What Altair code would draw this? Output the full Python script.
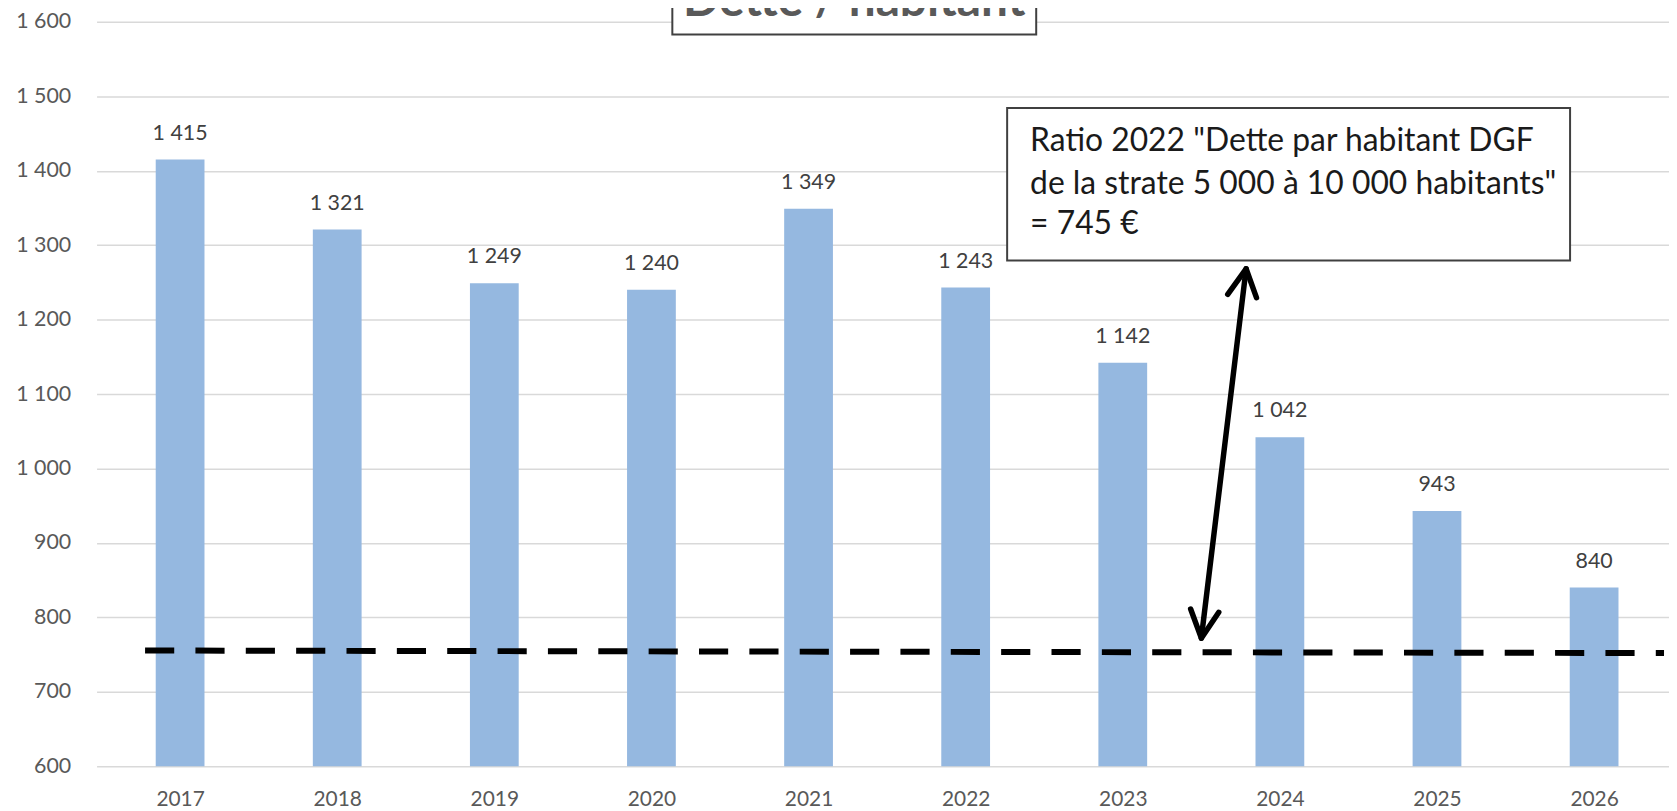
import altair as alt
import pandas as pd

# ---- data ----
years = [2017, 2018, 2019, 2020, 2021, 2022, 2023, 2024, 2025, 2026]
dette = [1415, 1321, 1249, 1240, 1349, 1243, 1142, 1042, 943, 840]
y_ticks = [600, 700, 800, 900, 1000, 1100, 1200, 1300, 1400, 1500, 1600]

# dashed reference line (drawn slightly sloped in the original)
ref_x = [2016.777, 2026.445]
ref_y = [755.5, 752.1]

# double arrow (bottom tip, top tip) and its two heads
arrow_x = [2023.50, 2023.785]
arrow_y = [772.1, 1268.3]
head_top_x = [2023.668, 2023.785, 2023.851]
head_top_y = [1233.9, 1268.3, 1229.5]
head_bot_x = [2023.432, 2023.50, 2023.611]
head_bot_y = [811.3, 772.1, 806.9]

# annotation box
box_x = [2022.264, 2025.847]
box_y = [1279.4, 1484.4]
note_lines = ['Ratio 2022 "Dette par habitant DGF',
              'de la strate 5 000 à 10 000 habitants"',
              '= 745 €']
note_x = [2022.41, 2022.41, 2022.41]
note_y = [1426.5, 1369.4, 1315.1]

# title (cut at the top in the original)
title_text = ["Dette / habitant"]
title_x = [2021.291]
title_y = [1608.4]
title_box_x = [2020.133, 2022.449]
title_box_y = [1583, 1720]

FONT = "Lato"

def fmt(v):
    return f"{v:,}".replace(",", " ")

bars_df = pd.DataFrame({"x": years, "y": dette, "label": [fmt(v) for v in dette]})
ref_df = pd.DataFrame({"x": [ref_x[0]], "x2": [ref_x[1]], "y": [ref_y[0]], "y2": [ref_y[1]]})
shaft_df = pd.DataFrame({"x": [arrow_x[0]], "x2": [arrow_x[1]], "y": [arrow_y[0]], "y2": [arrow_y[1]]})
heads_df = pd.DataFrame({
    "x": head_top_x + head_bot_x,
    "y": head_top_y + head_bot_y,
    "g": ["top"] * 3 + ["bot"] * 3,
    "i": [0, 1, 2, 0, 1, 2],
})
box_df = pd.DataFrame({"x": [box_x[0]], "x2": [box_x[1]], "y": [box_y[0]], "y2": [box_y[1]]})
note_df = pd.DataFrame({"x": note_x, "y": note_y, "t": note_lines})
tbox_df = pd.DataFrame({"x": [title_box_x[0]], "x2": [title_box_x[1]],
                        "y": [title_box_y[0]], "y2": [title_box_y[1]]})
title_df = pd.DataFrame({"x": title_x, "y": title_y, "t": title_text})

xscale = alt.Scale(domain=[2016.5, 2026.445], nice=False, zero=False)
yscale = alt.Scale(domain=[600, 1600], nice=False, zero=False)

x_axis = alt.Axis(values=years, format="d", grid=False, ticks=False, tickSize=0,
                  domain=False, labelFontSize=21, labelColor="#595959",
                  labelPadding=22, title=None, labelFont=FONT)
y_axis = alt.Axis(values=y_ticks, grid=True, gridColor="#D9D9D9", gridWidth=1.5,
                  ticks=False, tickSize=0, domain=False, labelFontSize=21.5,
                  labelColor="#595959", labelPadding=26, title=None, labelFont=FONT,
                  labelExpr="replace(format(datum.value, ','), ',', ' ')")

X = lambda: alt.X("x:Q", scale=xscale, axis=x_axis)
Y = lambda: alt.Y("y:Q", scale=yscale, axis=y_axis)

bars = alt.Chart(bars_df).mark_bar(size=49, color="#95B8E0").encode(
    x=X(), y=Y(), y2=alt.datum(600),
)
labels = alt.Chart(bars_df).mark_text(dy=-20, baseline="alphabetic", fontSize=21.5,
                                      color="#404040", font=FONT).encode(
    x=X(), y=Y(), text="label:N")

ref = alt.Chart(ref_df).mark_rule(strokeDash=[29.3, 21.3], strokeWidth=6, color="black").encode(
    x=X(), x2="x2:Q", y=Y(), y2="y2:Q")

shaft = alt.Chart(shaft_df).mark_rule(strokeWidth=5.5, color="black", strokeCap="round").encode(
    x=X(), x2="x2:Q", y=Y(), y2="y2:Q")
heads = alt.Chart(heads_df).mark_line(strokeWidth=5.5, color="black", strokeCap="round",
                                      strokeJoin="round").encode(
    x=X(), y=Y(), detail="g:N", order="i:Q")

box = alt.Chart(box_df).mark_rect(fill="white", stroke="#404040", strokeWidth=2).encode(
    x=X(), x2="x2:Q", y=Y(), y2="y2:Q")
note = alt.Chart(note_df).mark_text(align="left", baseline="alphabetic", fontSize=32,
                                    color="#1a1a1a", font=FONT).encode(
    x=X(), y=Y(), text="t:N")

tbox = alt.Chart(tbox_df).mark_rect(fill="white", stroke="#404040", strokeWidth=2).encode(
    x=X(), x2="x2:Q", y=Y(), y2="y2:Q")
title = alt.Chart(title_df).mark_text(align="center", baseline="alphabetic", fontSize=48,
                                      fontWeight="bold", color="#595959", font=FONT).encode(
    x=X(), y=Y(), text="t:N")

chart = alt.layer(bars, labels, ref, shaft, heads, box, note, tbox, title).properties(
    width=1580, height=748,
    autosize=alt.AutoSizeParams(type="none"),
    padding={"left": 89, "top": 12, "right": 0, "bottom": 43},
    background="white",
).configure_view(stroke=None)

chart.save("out.html", embed_options={"renderer": "svg", "actions": False})
